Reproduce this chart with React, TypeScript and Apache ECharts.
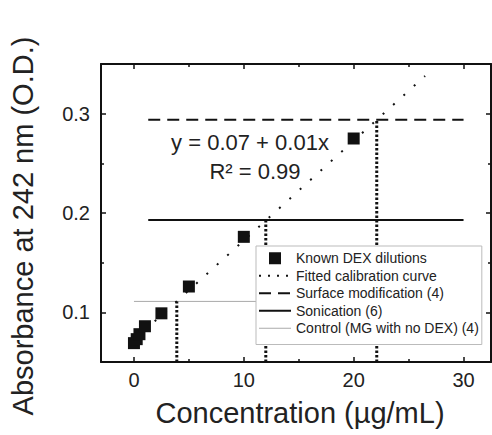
import React, { useEffect, useRef } from 'react';
import * as echarts from 'echarts';

// Known DEX dilutions (calibration standards)
const dexConc = [0, 0.25, 0.5, 1, 2.5, 5, 10, 20];
const dexAbs = [0.069, 0.073, 0.078, 0.086, 0.099, 0.126, 0.176, 0.275];

// Fitted calibration curve end points
const fitConc = [0, 26.5];
const fitAbs = [0.072, 0.338];

// Sample groups: measured absorbance and interpolated concentration
const groupNames = ['Surface modification (4)', 'Sonication (6)', 'Control (MG with no DEX) (4)'];
const groupAbs = [0.294, 0.193, 0.111];
const groupConc = [22.1, 12, 3.9];
const groupLineStart = [1.3, 1.3, 0];
const groupLineEnd = [30, 30, 30];

// Axes
const xMajor = [0, 10, 20, 30];
const xMinor = [5, 15, 25];
const yMajor = [0.1, 0.2, 0.3];
const yMinor = [0.15, 0.25];
const xRange = [-3, 32.5];
const yRange = [0.05, 0.35];

const FONT = 'Liberation Sans, Arial, Helvetica, sans-serif';
const INK = '#111111';
const GRAY = '#aaaaaa';

export default function App() {
  const ref = useRef<HTMLDivElement>(null);

  useEffect(() => {
    if (!ref.current) return;
    const chart = echarts.init(ref.current, null, { renderer: 'svg' });

    const mkX = (pos: 'bottom' | 'top', ticks: number[], len: number, showLine: boolean, showLabel: boolean) => ({
      type: 'value',
      position: pos,
      min: xRange[0],
      max: xRange[1],
      axisLine: { show: showLine, onZero: false, lineStyle: { color: INK, width: 2 } },
      axisTick: { show: true, inside: true, length: len, customValues: ticks, lineStyle: { color: INK, width: 1.5 } },
      axisLabel: {
        show: showLabel,
        customValues: ticks,
        fontSize: 20,
        color: '#222',
        fontFamily: FONT,
        margin: 8,
      },
      splitLine: { show: false },
    });
    const mkY = (pos: 'left' | 'right', ticks: number[], len: number, showLine: boolean, showLabel: boolean) => ({
      type: 'value',
      position: pos,
      min: yRange[0],
      max: yRange[1],
      axisLine: { show: showLine, onZero: false, lineStyle: { color: INK, width: 2 } },
      axisTick: { show: true, inside: true, length: len, customValues: ticks, lineStyle: { color: INK, width: 1.5 } },
      axisLabel: {
        show: showLabel,
        customValues: ticks,
        fontSize: 20,
        color: '#222',
        fontFamily: FONT,
        margin: 11,
      },
      splitLine: { show: false },
    });

    const groupColors = [INK, INK, GRAY];
    const groupStyles = [
      { color: INK, width: 2, type: [12, 7] as any },
      { color: INK, width: 2, type: 'solid' as any },
      { color: GRAY, width: 1, type: 'solid' as any },
    ];

    const series: any[] = [
      {
        name: 'Known DEX dilutions',
        type: 'scatter',
        symbol: 'rect',
        symbolSize: 12,
        color: INK,
        itemStyle: { color: INK, opacity: 1 },
        data: dexConc.map((c, i) => [c, dexAbs[i]]),
        z: 5,
      },
      {
        name: 'Fitted calibration curve',
        type: 'line',
        symbol: 'none',
        color: INK,
        itemStyle: { color: INK },
        lineStyle: { color: INK, width: 2, type: [2, 12] },
        data: fitConc.map((c, i) => [c, fitAbs[i]]),
        z: 4,
      },
    ];
    groupNames.forEach((name, i) => {
      series.push({
        name,
        type: 'line',
        symbol: 'none',
        color: groupColors[i],
        itemStyle: { color: groupColors[i] },
        lineStyle: groupStyles[i],
        data: [
          [groupLineStart[i], groupAbs[i]],
          [groupLineEnd[i], groupAbs[i]],
        ],
        z: 3,
      });
    });
    groupNames.forEach((_, i) => {
      series.push({
        name: 'drop' + i,
        type: 'line',
        symbol: 'none',
        color: INK,
        lineStyle: { color: INK, width: 3, type: [2.5, 2] },
        data: [
          [groupConc[i], yRange[0]],
          [groupConc[i], groupAbs[i]],
        ],
        z: 3,
      });
    });

    const hiddenSymbol = { opacity: 0, color: 'rgba(0,0,0,0)', borderWidth: 0 };
    const fitLegendLine = { color: INK, width: 2, type: [2, 7] };

    chart.setOption({
      animation: false,
      grid: { left: 101, right: 1, top: 64, bottom: 73, containLabel: false, outerBoundsMode: 'none' },
      xAxis: [
        mkX('bottom', xMajor, 5, true, true),
        mkX('bottom', xMinor, 3, false, false),
        mkX('top', xMajor, 5, true, false),
        mkX('top', xMinor, 3, false, false),
      ],
      yAxis: [
        mkY('left', yMajor, 5, true, true),
        mkY('left', yMinor, 3, false, false),
        mkY('right', yMajor, 5, true, false),
        mkY('right', yMinor, 3, false, false),
      ],
      legend: {
        orient: 'vertical',
        left: 256,
        top: 246,
        data: [
          { name: 'Known DEX dilutions', icon: 'path://M0,0h10v10h-10z', itemStyle: { color: INK, opacity: 1 } },
          { name: 'Fitted calibration curve', itemStyle: hiddenSymbol, lineStyle: fitLegendLine },
          { name: groupNames[0], itemStyle: hiddenSymbol, lineStyle: groupStyles[0] },
          { name: groupNames[1], itemStyle: hiddenSymbol, lineStyle: groupStyles[1] },
          { name: groupNames[2], itemStyle: hiddenSymbol, lineStyle: groupStyles[2] },
        ],
        itemWidth: 32,
        itemHeight: 12,
        itemGap: 3,
        padding: [5, 3, 9, 2],
        backgroundColor: '#ffffff',
        borderColor: '#bbbbbb',
        borderWidth: 1,
        borderRadius: 0,
        textStyle: { fontSize: 14, color: '#222', fontFamily: FONT, lineHeight: 14.5 },
        selectedMode: false,
        z: 10,
      },
      graphic: [
        {
          type: 'text',
          x: 250,
          y: 142,
          style: {
            text: 'y = 0.07 + 0.01x',
            fontSize: 22,
            fontFamily: FONT,
            fill: '#222',
            align: 'center',
            verticalAlign: 'middle',
          },
          z: 20,
        },
        {
          type: 'text',
          x: 255,
          y: 171,
          style: {
            text: 'R² = 0.99',
            fontSize: 22,
            fontFamily: FONT,
            fill: '#222',
            align: 'center',
            verticalAlign: 'middle',
          },
          z: 20,
        },
        {
          type: 'text',
          x: 300,
          y: 413,
          style: {
            text: 'Concentration (µg/mL)',
            fontSize: 29,
            fontFamily: FONT,
            fill: '#222',
            align: 'center',
            verticalAlign: 'middle',
          },
        },
        {
          type: 'text',
          x: 23,
          y: 226,
          rotation: Math.PI / 2,
          style: {
            text: 'Absorbance at 242 nm (O.D.)',
            fontSize: 29,
            fontFamily: FONT,
            fill: '#222',
            align: 'center',
            verticalAlign: 'middle',
          },
        },
      ],
      series,
    });

    return () => chart.dispose();
  }, []);

  return (
    <div
      ref={ref}
      style={{ position: 'fixed', left: 0, top: 0, width: 492, height: 435, background: '#fff' }}
    />
  );
}
